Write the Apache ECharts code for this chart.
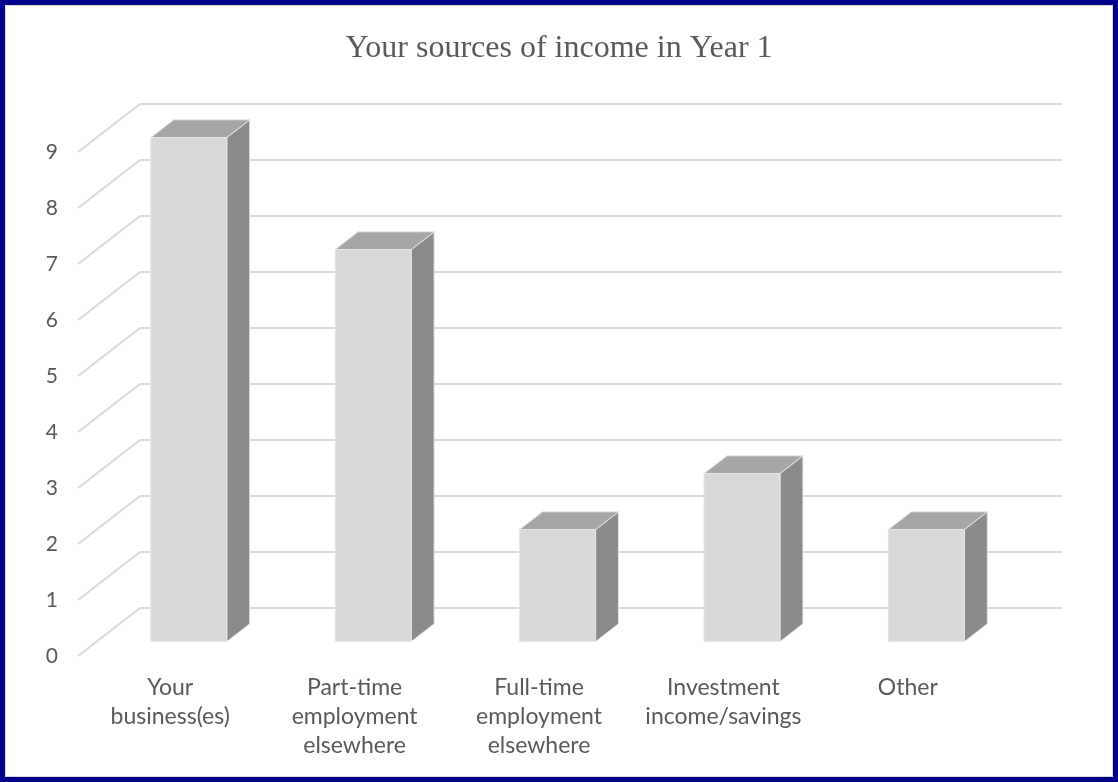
<!DOCTYPE html>
<html>
<head>
<meta charset="utf-8">
<title>Your sources of income in Year 1</title>
<script src="https://cdn.jsdelivr.net/npm/echarts@6/dist/echarts.min.js"></script>
<style>
  html, body { margin: 0; padding: 0; background: #ffffff; }
  #chart { width: 1118px; height: 782px; }
</style>
</head>
<body>
<div id="chart"></div>
<script>
// Income sources and number of respondents
const categories = [
  'Your\nbusiness(es)',
  'Part-time\nemployment\nelsewhere',
  'Full-time\nemployment\nelsewhere',
  'Investment\nincome/savings',
  'Other'
];
const counts = [9, 7, 2, 3, 2];
const yTicks = [0, 1, 2, 3, 4, 5, 6, 7, 8, 9];

// Oblique 3D look: full depth of the box in pixels, and where the columns sit in it
const DEPTH_X = 62;
const DEPTH_Y = 48;
const COL_FRONT = 0.3;
const COL_BACK = 0.67;
const COL_WIDTH = 0.412;

const GRID_LINE = '#d9d9d9';
const TEXT = '#595959';

const chart = echarts.init(document.getElementById('chart'), null, { renderer: 'canvas' });

function renderColumn(params, api) {
  const idx = api.value(0);
  const v = api.value(1);
  const base = api.coord([idx, 0]);
  const top = api.coord([idx, v]);
  const band = api.size([1, 0])[0];
  const w = band * COL_WIDTH;
  const ox = DEPTH_X * COL_FRONT, oy = DEPTH_Y * COL_FRONT;
  const dx = DEPTH_X * (COL_BACK - COL_FRONT);
  const dy = DEPTH_Y * (COL_BACK - COL_FRONT);
  const x0 = base[0] + ox - w / 2;
  const x1 = x0 + w;
  const yb = base[1] - oy;
  const yt = top[1] - oy;
  const edge = { stroke: '#e4e4e4', lineWidth: 1 };
  return {
    type: 'group',
    children: [
      {
        type: 'polygon',
        shape: { points: [[x1, yt], [x1 + dx, yt - dy], [x1 + dx, yb - dy], [x1, yb]] },
        style: Object.assign({ fill: '#8b8b8b' }, edge)
      },
      {
        type: 'polygon',
        shape: { points: [[x0, yt], [x1, yt], [x1 + dx, yt - dy], [x0 + dx, yt - dy]] },
        style: Object.assign({ fill: '#a6a6a6' }, edge)
      },
      {
        type: 'rect',
        shape: { x: x0, y: yt, width: w, height: yb - yt },
        style: Object.assign({ fill: '#d9d9d9' }, edge)
      }
    ]
  };
}

function renderSideWallLine(params, api) {
  const y = api.coord([0, api.value(1)])[1];
  const x = params.coordSys.x;
  return {
    type: 'line',
    shape: { x1: x, y1: y, x2: x + DEPTH_X, y2: y - DEPTH_Y },
    style: { stroke: GRID_LINE, lineWidth: 2 }
  };
}

const option = {
  backgroundColor: '#ffffff',
  animation: false,
  title: {
    text: 'Your sources of income in Year 1',
    left: 'center',
    top: 28,
    textStyle: {
      fontFamily: 'Liberation Serif',
      fontWeight: 'normal',
      fontSize: 32,
      color: TEXT
    }
  },
  graphic: [
    {
      type: 'rect',
      shape: { x: 2.5, y: 2.5, width: 1113, height: 777 },
      style: { fill: 'none', stroke: '#00008b', lineWidth: 5 },
      silent: true
    },
    {
      type: 'rect',
      shape: { x: 5.5, y: 5.5, width: 1107, height: 771 },
      style: { fill: 'none', stroke: '#d9d9d9', lineWidth: 1 },
      silent: true
    }
  ],
  grid: [
    // front plane: axis labels and columns
    { left: 78, right: 118, top: 152, bottom: 126 },
    // back wall
    { left: 78 + DEPTH_X, right: 118 - DEPTH_X, top: 152 - DEPTH_Y, bottom: 126 + DEPTH_Y }
  ],
  xAxis: [
    {
      type: 'category',
      gridIndex: 0,
      data: categories,
      axisLine: { show: false },
      axisTick: { show: false },
      splitLine: { show: false },
      axisLabel: {
        interval: 0,
        margin: 17,
        fontFamily: 'Lato',
        fontSize: 23,
        lineHeight: 29,
        color: TEXT
      }
    },
    {
      type: 'category',
      gridIndex: 1,
      data: categories,
      show: false
    }
  ],
  yAxis: [
    {
      type: 'value',
      gridIndex: 0,
      min: 0,
      max: 9,
      interval: 1,
      axisLine: { show: false },
      axisTick: { show: false },
      splitLine: { show: false },
      axisLabel: {
        margin: 20,
        fontFamily: 'Lato',
        fontSize: 21,
        color: TEXT
      }
    },
    {
      type: 'value',
      gridIndex: 1,
      min: 0,
      max: 9,
      interval: 1,
      axisLine: { show: false },
      axisTick: { show: false },
      axisLabel: { show: false },
      splitLine: { show: true, lineStyle: { color: GRID_LINE, width: 2 } }
    }
  ],
  series: [
    {
      name: 'side wall',
      type: 'custom',
      xAxisIndex: 0,
      yAxisIndex: 0,
      clip: false,
      silent: true,
      z: 1,
      data: yTicks.map(t => [0, t]),
      renderItem: renderSideWallLine
    },
    {
      name: 'Respondents',
      type: 'custom',
      xAxisIndex: 0,
      yAxisIndex: 0,
      clip: false,
      z: 3,
      data: counts.map((v, i) => [i, v]),
      renderItem: renderColumn
    }
  ]
};

chart.setOption(option);
</script>
</body>
</html>
